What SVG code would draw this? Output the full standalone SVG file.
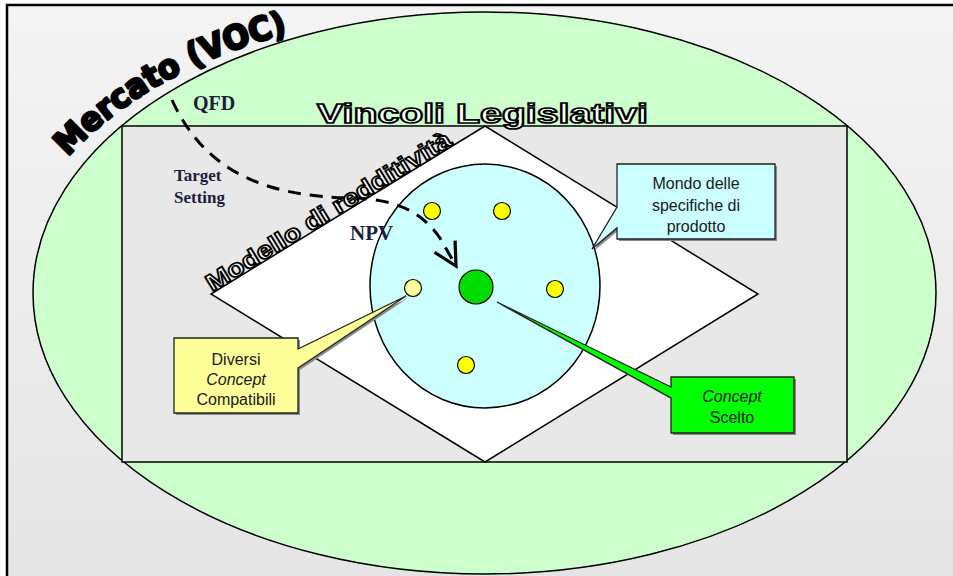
<svg xmlns="http://www.w3.org/2000/svg" width="953" height="576" viewBox="0 0 953 576">
<defs>
<linearGradient id="bg" x1="0" y1="0" x2="0" y2="1">
<stop offset="0" stop-color="#f4f4f4"/>
<stop offset="1" stop-color="#e4e4e4"/>
</linearGradient>
<marker id="vhead" markerUnits="userSpaceOnUse" markerWidth="30" markerHeight="30" viewBox="-24 -14 28 28" refX="0" refY="0" orient="auto">
<path d="M-21,-11 L0,0 L-21,11" fill="none" stroke="#000" stroke-width="3"/>
</marker>
<path id="mercatoPath" d="M60,166 C112,104 195,54 310,28"/>
</defs>
<style>
.line{stroke:#000;stroke-width:1.5}
.call{font-family:"Liberation Sans",Arial,sans-serif;font-size:16px;fill:#1a1a1a;text-anchor:middle}
.serif{font-family:"Liberation Serif","Times New Roman",serif;font-weight:bold;fill:#1c1c3c}
.outline{font-family:"Liberation Sans",Arial,sans-serif;font-weight:bold;fill:#fff;stroke:#000;stroke-width:1.7}
.shadow{fill:#8a8a8a}
.dot{stroke:#000;stroke-width:1.2}
</style>
<g id="frame">
<rect x="7" y="5" width="960" height="600" fill="url(#bg)" stroke="#000" stroke-width="2.5"/>
</g>
<g id="mercato">
<ellipse cx="484.5" cy="293" rx="451.5" ry="281" fill="#ccffcc" class="line"/>
<text font-family="'DejaVu Sans',Arial,sans-serif" font-weight="bold" font-size="33" fill="#000" stroke="#000" stroke-width="2.6" stroke-linejoin="round"><textPath href="#mercatoPath" startOffset="12" textLength="256" lengthAdjust="spacingAndGlyphs">Mercato (VOC)</textPath></text>
</g>
<g id="vincoli">
<rect x="122" y="126" width="725" height="336" fill="#e8e8e8" class="line"/>
<text class="outline" x="317" y="123" font-size="27" textLength="331" lengthAdjust="spacingAndGlyphs">Vincoli Legislativi</text>
</g>
<g id="modello">
<polygon points="485,126 758,294 485,462 211,294" fill="#fff" class="line"/>
<text class="outline" x="212" y="292" font-size="24" textLength="283" lengthAdjust="spacingAndGlyphs" transform="rotate(-31.5 212 292)">Modello di redditività</text>
</g>
<g id="mondo">
<ellipse cx="485" cy="286" rx="115" ry="122" fill="#ccffff" class="line"/>
</g>
<g id="dots">
<circle class="dot" cx="432" cy="211" r="8.5" fill="#ffff00"/>
<circle class="dot" cx="502" cy="211" r="8.5" fill="#ffff00"/>
<circle class="dot" cx="555" cy="289" r="8.5" fill="#ffff00"/>
<circle class="dot" cx="466" cy="365" r="8.5" fill="#ffff00"/>
<circle class="dot" cx="413" cy="288" r="8.5" fill="#ffff99"/>
<circle class="dot" cx="476" cy="287" r="17" fill="#00dd00"/>
</g>
<g id="connectors">
<path d="M172,100 C205,172 265,196 350,198 C395,199 420,210 440,238 L456,266" fill="none" stroke="#000" stroke-width="3" stroke-dasharray="13,9" marker-end="url(#vhead)"/>
</g>
<g id="labels">
<text class="serif" x="193" y="110" font-size="20">QFD</text>
<text class="serif" x="174" y="181" font-size="17">Target</text>
<text class="serif" x="174" y="203" font-size="17">Setting</text>
<text class="serif" x="350" y="240" font-size="21">NPV</text>
</g>
<g id="callout-mondo">
<path class="shadow" d="M619,166 H777 V241 H619 V230 L594,251 L619,209 Z"/>
<path d="M617,164 H775 V239 H617 V228 L592,249 L617,207 Z" fill="#ccffff" stroke="#222" stroke-width="1.3"/>
<text class="call" x="696" y="189">Mondo delle</text>
<text class="call" x="696" y="211">specifiche di</text>
<text class="call" x="696" y="232">prodotto</text>
</g>
<g id="callout-diversi">
<path class="shadow" d="M176,340 H300 V351 L408,298 L300,370 V415 H176 Z"/>
<path d="M174,338 H298 V349 L406,296 L298,368 V413 H174 Z" fill="#ffff99" stroke="#222" stroke-width="1.3"/>
<text class="call" x="236" y="365">Diversi</text>
<text class="call" x="236" y="385" font-style="italic">Concept</text>
<text class="call" x="236" y="405">Compatibili</text>
</g>
<g id="callout-scelto">
<path class="shadow" d="M673,379 H796 V435 H673 V400 L499,304 L673,389 Z"/>
<path d="M671,377 H794 V433 H671 V398 L497,302 L671,387 Z" fill="#00ff00" stroke="#222" stroke-width="1.3"/>
<text class="call" x="732" y="402" font-style="italic">Concept</text>
<text class="call" x="732" y="423">Scelto</text>
</g>
</svg>
